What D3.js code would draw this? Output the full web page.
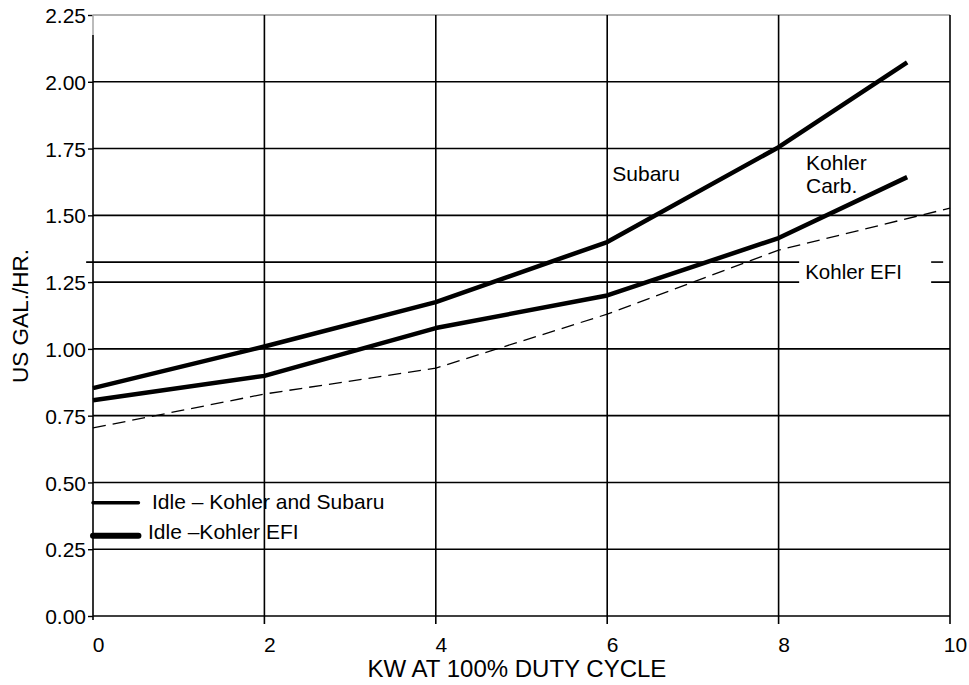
<!DOCTYPE html>
<html>
<head>
<meta charset="utf-8">
<script src="https://cdn.jsdelivr.net/npm/d3@7"></script>
<style>
  body { margin: 0; background: #fff; }
  svg { display: block; }
  text { font-family: "Liberation Sans", Arial, Helvetica, sans-serif; fill: #000; }
</style>
</head>
<body>
<svg id="chart" width="969" height="685"></svg>
<script>
// ---- data ----
const kwValues = [0, 2, 4, 6, 8, 9.5];
const subaru = [0.853, 1.009, 1.175, 1.40, 1.755, 2.073];
const kohlerCarb = [0.808, 0.899, 1.078, 1.20, 1.415, 1.643];
const efiKw = [0, 2, 4, 6, 8, 10];
const kohlerEfi = [0.704, 0.831, 0.928, 1.13, 1.37, 1.527];
const idleKohlerSubaru = 0.424;
const idleKohlerEfi = 0.30;
const idleKw = [0, 0.53];
const efiRefValue = 1.325;
const xTicks = [0, 2, 4, 6, 8, 10];
const yTicks = [0, 0.25, 0.5, 0.75, 1.0, 1.25, 1.5, 1.75, 2.0, 2.25];
const labels = [
  { text: "Subaru", x: 6.06, y: 1.63 },
  { text: "Kohler", x: 8.32, y: 1.67 },
  { text: "Carb.", x: 8.32, y: 1.585 },
  { text: "Kohler EFI", x: 8.31, y: 1.26 }
];

// ---- layout ----
const svg = d3.select("#chart");
const x = d3.scaleLinear().domain([0, 10]).range([93, 950]);
const y = d3.scaleLinear().domain([0, 2.25]).range([616, 15]);

// horizontal grid
svg.append("g").selectAll("line").data(yTicks).join("line")
  .attr("x1", x(0)).attr("x2", x(10))
  .attr("y1", d => y(d)).attr("y2", d => y(d))
  .attr("stroke", d => d === 2.25 ? "#999" : "#000")
  .attr("stroke-width", 1.6);

// vertical grid (extending below as ticks)
svg.append("g").selectAll("line").data(xTicks.filter(d => d > 0)).join("line")
  .attr("x1", d => x(d)).attr("x2", d => x(d))
  .attr("y1", y(2.25)).attr("y2", y(0) + 8)
  .attr("stroke", "#000").attr("stroke-width", 1.6);

// EFI reference line (with gap around label)
const refSegs = [[-0.08, 8.24], [9.78, 9.92]];
svg.append("g").selectAll("line").data(refSegs).join("line")
  .attr("x1", d => x(d[0])).attr("x2", d => x(d[1]))
  .attr("y1", y(efiRefValue)).attr("y2", y(efiRefValue))
  .attr("stroke", "#000").attr("stroke-width", 1.6);

// gap in 1.25 gridline for the label
svg.append("rect")
  .attr("x", x(8.24)).attr("width", x(9.78) - x(8.24))
  .attr("y", y(1.25) - 3).attr("height", 6)
  .attr("fill", "#fff");

// left axis
const yAxis = d3.axisLeft(y).tickValues(yTicks).tickFormat(d3.format(".2f")).tickSize(5).tickPadding(2);
const gy = svg.append("g").attr("transform", `translate(${x(0)},0)`).call(yAxis);
gy.select(".domain").remove();
gy.selectAll(".tick line").attr("stroke", "#000").attr("stroke-width", 1.4);
gy.selectAll(".tick text").style("font-size", "21px").attr("dy", "0.36em");
svg.append("line").attr("x1", x(0)).attr("x2", x(0)).attr("y1", y(2.25)).attr("y2", y(2.25) + 20)
  .attr("stroke", "#aaa").attr("stroke-width", 1.6);
svg.append("line").attr("x1", x(0)).attr("x2", x(0)).attr("y1", y(2.25) + 20).attr("y2", y(0) + 4)
  .attr("stroke", "#000").attr("stroke-width", 1.6);

// bottom axis labels
const xAxis = d3.axisBottom(x).tickValues(xTicks).tickFormat(d3.format("d")).tickSize(0).tickPadding(21);
const gx = svg.append("g").attr("transform", `translate(0,${y(0)})`).call(xAxis);
gx.select(".domain").remove();
gx.selectAll(".tick text").style("font-size", "21px").attr("dx", 5);

// axis titles
svg.append("text").attr("x", 517).attr("y", 677).attr("text-anchor", "middle")
  .style("font-size", "24px").text("KW AT 100% DUTY CYCLE");
svg.append("text").attr("transform", "translate(28,316) rotate(-90)").attr("text-anchor", "middle")
  .style("font-size", "22.5px").text("US GAL./HR.");

// series
const line = d3.line().x(d => x(d[0])).y(d => y(d[1]));
svg.append("path").datum(d3.zip(kwValues, subaru)).attr("d", line)
  .attr("fill", "none").attr("stroke", "#000").attr("stroke-width", 4.5).attr("stroke-linejoin", "round");
svg.append("path").datum(d3.zip(kwValues, kohlerCarb)).attr("d", line)
  .attr("fill", "none").attr("stroke", "#000").attr("stroke-width", 4.5).attr("stroke-linejoin", "round");
svg.append("path").datum(d3.zip(efiKw, kohlerEfi)).attr("d", line)
  .attr("fill", "none").attr("stroke", "#000").attr("stroke-width", 1.3).attr("stroke-dasharray", "13,7");

// idle markers
svg.append("path").datum(idleKw.map(k => [k, idleKohlerSubaru])).attr("d", line)
  .attr("fill", "none").attr("stroke", "#000").attr("stroke-width", 3.5).attr("stroke-linecap", "round");
svg.append("path").datum(idleKw.map(k => [k, idleKohlerEfi])).attr("d", line)
  .attr("fill", "none").attr("stroke", "#000").attr("stroke-width", 6).attr("stroke-linecap", "round");
svg.append("text").attr("x", 152).attr("y", 509).style("font-size", "21px").text("Idle – Kohler and Subaru");
svg.append("text").attr("x", 148).attr("y", 539).style("font-size", "21px").text("Idle –Kohler EFI");

// annotations
svg.append("g").selectAll("text").data(labels).join("text")
  .attr("x", d => x(d.x)).attr("y", d => y(d.y))
  .style("font-size", d => d.text === "Kohler EFI" ? "20.5px" : "21px").text(d => d.text);
</script>
</body>
</html>
